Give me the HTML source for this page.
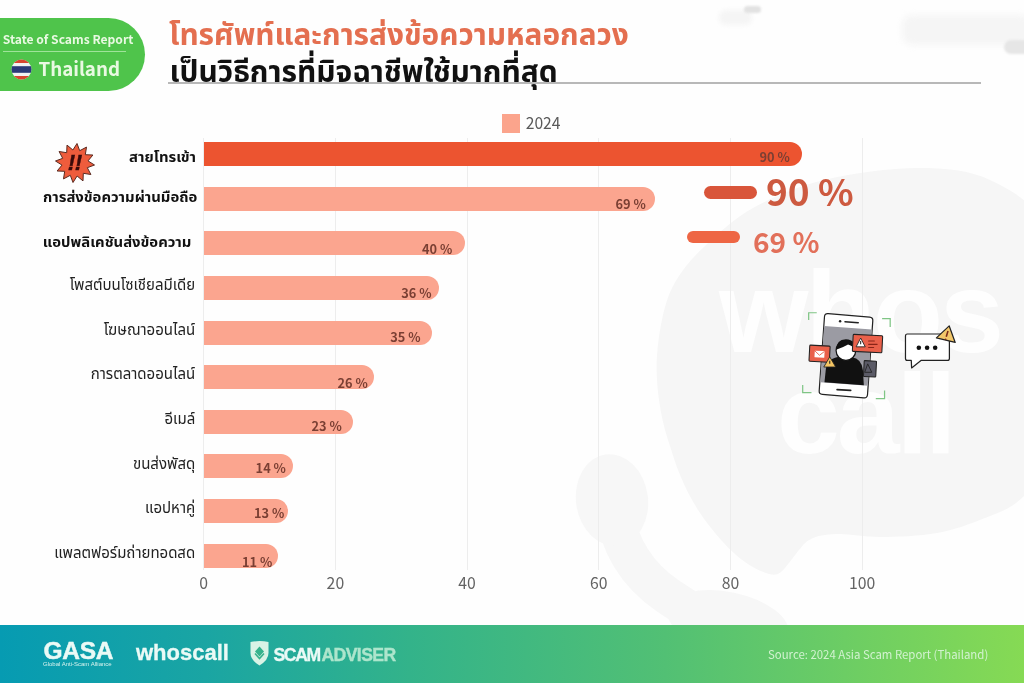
<!DOCTYPE html>
<html lang="th">
<head>
<meta charset="utf-8">
<title>State of Scams Report – Thailand</title>
<style>
html,body{margin:0;padding:0;}
body{width:1024px;height:683px;overflow:hidden;background:#fff;font-family:"Liberation Sans","Noto Sans Thai","Sarabun",sans-serif;}
#page{position:relative;width:1024px;height:683px;overflow:hidden;background:#fefefe;}
.abs{position:absolute;}
.th{font-family:"Liberation Sans","Noto Sans Thai","Sarabun","Kanit",sans-serif;}
.num{font-family:"Noto Sans CJK SC","Liberation Sans",sans-serif;}
/* badge */
#badge{left:0;top:18px;width:145px;height:73px;background:#4fc44b;border-radius:0 37px 37px 0;}
#badge .t1{left:2.8px;top:13px;font-size:12.1px;font-weight:bold;color:#e9f9e2;white-space:nowrap;line-height:16px;}
#badge .ln{left:3px;top:33px;width:123px;height:1px;background:#9fe39a;}
#badge .t2{left:38.4px;top:38px;font-size:18.8px;font-weight:bold;color:#e9f9e2;white-space:nowrap;line-height:24px;}
/* titles */
#t1{left:169px;top:12.9px;font-size:29.8px;font-weight:bold;color:#e46f50;white-space:nowrap;line-height:44px;transform:scaleY(1.025);transform-origin:0 30px;}
#t2{left:169.5px;top:49.9px;font-size:29.9px;font-weight:bold;color:#111;white-space:nowrap;line-height:44px;transform:scaleY(1.02);transform-origin:0 30px;}
#rule{left:168px;top:82px;width:813px;height:1.5px;background:#b8b8b8;}
/* chart */
.grid{top:138px;width:1px;height:432px;background:#ededed;}
.bar{left:204px;height:24px;background:#fba58f;border-radius:0 12px 12px 0;}
.bar.hot{background:#ec5430;}
.lab{right:828px;font-size:15px;color:#222;white-space:nowrap;line-height:24px;text-align:right;}
.lab.b{font-weight:bold;color:#111;font-size:14.85px;}
.val{font-size:12.8px;font-weight:bold;color:#7a3f33;white-space:nowrap;line-height:14px;}
.tick{top:572.9px;width:60px;margin-left:-30px;text-align:center;font-size:15.8px;color:#636363;line-height:20px;}
/* footer */
#footer{left:0;top:625px;width:1024px;height:58px;background:linear-gradient(90deg,#069bb2 0%,#1aa5a3 20%,#33b38a 40%,#52c074 65%,#86da54 100%);}
</style>
</head>
<body>
<div id="page">
  <svg class="abs" style="left:0;top:0;" width="1024" height="683" viewBox="0 0 1024 683">
    <path d="M918,168 C946,168 969,170 990,180 C1011,190 1030,200 1045,225 C1060,250 1075,294 1078,330 C1081,366 1071,412 1062,440 C1053,468 1037,483 1024,496 C1011,509 1000,512 985,518 C970,524 954,530 937,533 C920,536 896,537 880,537 C864,537 851,534 840,534 C829,534 820,535 813,538 C806,541 804,544 799,550 C794,556 786,568 781,572 C776,576 772,575 766,573 C760,571 752,567 745,562 C738,557 730,550 722,541 C714,532 705,521 698,510 C691,499 685,487 680,475 C675,463 672,452 668,440 C664,428 661,414 659,400 C657,386 656,369 657,355 C658,341 660,328 663,315 C666,302 670,290 677,279 C684,268 692,258 705,246 C718,234 733,219 753,208 C773,197 796,187 824,180 C852,173 890,168 918,168 Z" fill="#f6f6f6"/>
    <path d="M612,492 Q615,560 668,596 Q700,618 745,640" fill="none" stroke="#f7f7f7" stroke-width="38" stroke-linecap="round"/>
    <ellipse cx="612" cy="500" rx="36" ry="46" transform="rotate(-8 612 500)" fill="#f7f7f7"/>
    <ellipse cx="728" cy="622" rx="62" ry="30" transform="rotate(12 728 622)" fill="#f7f7f7"/>
    <text x="719" y="352" font-family="Liberation Sans, sans-serif" font-weight="bold" font-size="115" letter-spacing="-3" fill="#fefefe">whos</text>
    <text x="777" y="453" font-family="Liberation Sans, sans-serif" font-weight="bold" font-size="113" letter-spacing="-3" fill="#fefefe">call</text>
  </svg>
  <div class="abs" style="left:719px;top:10px;width:33px;height:15px;border-radius:7px;background:#f5f5f5;filter:blur(2px);"></div>
  <div class="abs" style="left:744px;top:6px;width:17px;height:7px;border-radius:3.5px;background:#e2e2e2;filter:blur(0.8px);"></div>
  <div class="abs" style="left:902px;top:15px;width:130px;height:30px;border-radius:10px;background:#f5f5f5;filter:blur(3px);"></div>
  <div class="abs" style="left:1004px;top:40px;width:30px;height:14px;border-radius:7px;background:#e6e6e6;filter:blur(1px);"></div>
  <div id="badge" class="abs">
    <div class="abs t1 num">State of Scams Report</div>
    <div class="abs ln"></div>
    <svg class="abs" style="left:11px;top:40.5px;" width="21" height="21" viewBox="0 0 21 21">
      <defs><clipPath id="fc"><circle cx="10.5" cy="10.5" r="10"/></clipPath></defs>
      <g clip-path="url(#fc)">
        <rect x="0" y="0" width="21" height="21" fill="#f2f2f2"/>
        <rect x="0" y="0" width="21" height="4" fill="#d8452f"/>
        <rect x="0" y="17" width="21" height="4" fill="#d8452f"/>
        <rect x="0" y="7.2" width="21" height="6.6" fill="#2b3a78"/>
      </g>
    </svg>
    <div class="abs t2 num">Thailand</div>
  </div>
  <div id="t1" class="abs th">โทรศัพท์และการส่งข้อความหลอกลวง</div>
  <div id="t2" class="abs th">เป็นวิธีการที่มิจฉาชีพใช้มากที่สุด</div>
  <div id="rule" class="abs"></div>
  <div class="abs grid" style="left:203.2px;"></div>
  <div class="abs grid" style="left:334.9px;"></div>
  <div class="abs grid" style="left:466.6px;"></div>
  <div class="abs grid" style="left:598.3px;"></div>
  <div class="abs grid" style="left:730.0px;"></div>
  <div class="abs grid" style="left:861.7px;"></div>
  <div class="abs bar hot" style="top:142.0px;width:597.8px;"></div>
  <div class="abs lab th b" style="top:145.2px;right:828px;">สายโทรเข้า</div>
  <div class="abs val num" style="left:759.5px;top:149.5px;">90 %</div>
  <div class="abs bar" style="top:186.6px;width:451.0px;"></div>
  <div class="abs lab th b" style="top:185.2px;right:826.7px;">การส่งข้อความผ่านมือถือ</div>
  <div class="abs val num" style="left:615.4px;top:196.6px;">69 %</div>
  <div class="abs bar" style="top:231.2px;width:260.6px;"></div>
  <div class="abs lab th b" style="top:229.8px;right:832.6px;">แอปพลิเคชันส่งข้อความ</div>
  <div class="abs val num" style="left:421.9px;top:241.5px;">40 %</div>
  <div class="abs bar" style="top:275.9px;width:235.4px;"></div>
  <div class="abs lab th" style="top:273.1px;right:828.8px;">โพสต์บนโซเชียลมีเดีย</div>
  <div class="abs val num" style="left:401.2px;top:286.0px;">36 %</div>
  <div class="abs bar" style="top:320.5px;width:227.7px;"></div>
  <div class="abs lab th" style="top:317.7px;right:828.8px;">โฆษณาออนไลน์</div>
  <div class="abs val num" style="left:390.3px;top:329.8px;">35 %</div>
  <div class="abs bar" style="top:365.1px;width:169.7px;"></div>
  <div class="abs lab th" style="top:362.3px;right:828.8px;">การตลาดออนไลน์</div>
  <div class="abs val num" style="left:337.5px;top:375.6px;">26 %</div>
  <div class="abs bar" style="top:409.7px;width:148.7px;"></div>
  <div class="abs lab th" style="top:406.9px;right:828.8px;">อีเมล์</div>
  <div class="abs val num" style="left:311.5px;top:419.1px;">23 %</div>
  <div class="abs bar" style="top:454.3px;width:88.8px;"></div>
  <div class="abs lab th" style="top:451.5px;right:828.8px;">ขนส่งพัสดุ</div>
  <div class="abs val num" style="left:255.6px;top:460.6px;">14 %</div>
  <div class="abs bar" style="top:499.0px;width:84.0px;"></div>
  <div class="abs lab th" style="top:496.2px;right:828.8px;">แอปหาคู่</div>
  <div class="abs val num" style="left:253.9px;top:505.8px;">13 %</div>
  <div class="abs bar" style="top:543.6px;width:73.9px;"></div>
  <div class="abs lab th" style="top:540.8px;right:828.8px;">แพลตฟอร์มถ่ายทอดสด</div>
  <div class="abs val num" style="left:241.9px;top:554.9px;">11 %</div>
  <div class="abs tick num" style="left:203.7px;">0</div>
  <div class="abs tick num" style="left:335.4px;">20</div>
  <div class="abs tick num" style="left:467.1px;">40</div>
  <div class="abs tick num" style="left:598.8px;">60</div>
  <div class="abs tick num" style="left:730.5px;">80</div>
  <div class="abs tick num" style="left:862.2px;">100</div>
  <div class="abs" style="left:502px;top:114px;width:18px;height:18.5px;background:#fba48c;"></div>
  <div class="abs num" style="left:525.7px;top:112.6px;font-size:15.7px;line-height:19px;color:#5a5a5a;">2024</div>
  <div class="abs" style="left:704px;top:186px;width:53px;height:12.5px;border-radius:7px;background:#d9553a;"></div>
  <div class="abs num" id="c90" style="left:766px;top:166.5px;font-size:37px;line-height:46px;font-weight:bold;color:#cd5a40;white-space:nowrap;">90 %</div>
  <div class="abs" style="left:687px;top:231px;width:53px;height:12px;border-radius:6px;background:#ee6644;"></div>
  <div class="abs num" id="c69" style="left:753px;top:220.5px;font-size:28px;line-height:40px;font-weight:bold;color:#e2705a;white-space:nowrap;">69 %</div>
  <svg class="abs" style="left:55px;top:143px;" width="40" height="40" viewBox="-20 -20 40 40">
    <polygon id="burst" points="2.0,-19.5 4.7,-12.3 11.5,-15.9 10.3,-8.3 17.9,-8.0 13.0,-2.1 19.5,2.0 12.3,4.7 15.9,11.5 8.3,10.3 8.0,17.9 2.1,13.0 -2.0,19.5 -4.7,12.3 -11.5,15.9 -10.3,8.3 -17.9,8.0 -13.0,2.1 -19.5,-2.0 -12.3,-4.7 -15.9,-11.5 -8.3,-10.3 -8.0,-17.9 -2.1,-13.0" fill="#ee5c3c" stroke="#5a2a20" stroke-width="1" stroke-linejoin="miter"/>
    <text x="-0.3" y="6.8" text-anchor="middle" font-family="Liberation Sans, sans-serif" font-weight="bold" font-style="italic" font-size="22.5" letter-spacing="-0.5" fill="#3a0a0a" stroke="#3a0a0a" stroke-width="0.4">!!</text>
  </svg>
  <svg class="abs" style="left:790px;top:295px;" width="180" height="120" viewBox="0 0 1024 683">
    <g fill="none" stroke="#7fc585" stroke-width="7">
      <path d="M106,142 V101 H152"/><path d="M524,134 H570 V182"/>
      <path d="M72,512 V556 H122"/><path d="M488,590 H538 V544"/>
    </g>
    <path d="M217,106 L453,126 Q473,128 471,147 L441,566 Q440,587 420,585 L184,566 Q164,565 166,545 L196,124 Q197,104 217,106 Z" fill="#fff" stroke="#222" stroke-width="7" stroke-linejoin="round"/>
    <path d="M194,176 L466,197 L443,516 L172,496 Z" fill="#9b9ba3"/>
    <circle cx="285" cy="150" r="7" fill="#222"/>
    <path d="M313,152 L388,158" stroke="#222" stroke-width="9" stroke-linecap="round"/>
    <path d="M268,538 L345,543" stroke="#222" stroke-width="10" stroke-linecap="round"/>
    <path d="M196,497 L204,420 Q215,355 290,352 L350,354 Q410,362 415,430 L420,514 Z" fill="#111"/>
    <circle cx="318" cy="316" r="56" fill="#fff" stroke="#111" stroke-width="7"/>
    <path d="M262,312 Q262,255 318,252 Q378,255 378,318 Q360,290 330,282 Q300,300 262,312 Z" fill="#111"/>
    <rect x="110" y="288" width="116" height="92" rx="5" fill="#e9604a" stroke="#222" stroke-width="6" transform="rotate(3 168 334)"/>
    <g transform="rotate(3 168 334)"><rect x="140" y="318" width="56" height="38" rx="3" fill="#fff"/><path d="M141,320 L168,343 L195,320" fill="none" stroke="#e9604a" stroke-width="5"/></g>
    <path d="M226,352 L260,410 L192,410 Z" fill="#f5c563" stroke="#222" stroke-width="5" stroke-linejoin="round"/>
    <path d="M226,374 V392" stroke="#222" stroke-width="6"/>
    <rect x="420" y="375" width="70" height="90" rx="4" fill="#5b5b67" stroke="#222" stroke-width="6" transform="rotate(3 455 420)"/>
    <path d="M442,392 L465,440 L425,440 Z" fill="none" stroke="#222" stroke-width="5" stroke-linejoin="round"/>
    <rect x="357" y="228" width="168" height="97" rx="5" fill="#e9604a" stroke="#222" stroke-width="6" transform="rotate(3 440 276)"/>
    <path d="M402,245 L428,295 L376,295 Z" fill="#fff" stroke="#222" stroke-width="5" stroke-linejoin="round"/>
    <path d="M402,262 V280" stroke="#222" stroke-width="6"/>
    <g stroke="#8a2418" stroke-width="6" stroke-linecap="round"><path d="M447,262 H480"/><path d="M447,281 H496"/><path d="M447,299 H476"/></g>
    <path d="M668,222 H896 Q907,222 907,233 V361 Q907,372 896,372 H747 L692,415 L690,372 H668 Q657,372 657,361 V233 Q657,222 668,222 Z" fill="#fff" stroke="#222" stroke-width="7" stroke-linejoin="round"/>
    <circle cx="733" cy="300" r="13" fill="#111"/><circle cx="780" cy="300" r="13" fill="#111"/><circle cx="826" cy="300" r="13" fill="#111"/>
    <path d="M906,176 L940,270 L833,244 Z" fill="#f3c76a" stroke="#222" stroke-width="7" stroke-linejoin="round"/>
    <path d="M899,205 L889,238" stroke="#7a2a18" stroke-width="9"/>
    <circle cx="885" cy="252" r="5" fill="#7a2a18"/>
  </svg>
  <div id="footer" class="abs">
    <div class="abs" id="gasa" style="left:43.5px;top:11.5px;font-size:24.5px;line-height:28px;font-weight:bold;color:#eafaf6;-webkit-text-stroke:0.5px #eafaf6;letter-spacing:-0.3px;white-space:nowrap;">GASA</div>
    <div class="abs" id="gasasub" style="left:43px;top:35px;font-size:6px;line-height:8px;color:#d8f3ee;white-space:nowrap;">Global Anti-Scam Alliance</div>
    <div class="abs" id="whos" style="left:136px;top:13px;font-size:22px;line-height:30px;font-weight:bold;color:#eafaf6;letter-spacing:0px;-webkit-text-stroke:0.3px #eafaf6;white-space:nowrap;">whoscall</div>
    <svg class="abs" style="left:249px;top:15px;" width="21" height="27" viewBox="0 0 21 27">
      <path d="M1.5,2 Q10.5,0.2 19.5,2 V13 Q19.5,20 10.5,25.5 Q1.5,20 1.5,13 Z" fill="#d9f3e6"/>
      <path d="M10.5,6.5 L15,11.5 L10.5,16.5 L6,11.5 Z" fill="#35b28c"/>
      <path d="M6,13.5 L10.5,18.5 L15,13.5" fill="none" stroke="#35b28c" stroke-width="1.6"/>
    </svg>
    <div class="abs" id="scam" style="left:273.5px;top:17.5px;font-size:17.6px;line-height:24px;font-weight:bold;color:#eafaf6;-webkit-text-stroke:0.35px;letter-spacing:-1.4px;white-space:nowrap;">SCAM<span style="color:#ade5cc;letter-spacing:-0.6px;margin-left:1.8px;">ADVISER</span></div>
    <div class="abs num" id="src" style="left:768px;top:21px;font-size:11.4px;line-height:16px;color:#d2f2d0;white-space:nowrap;">Source: 2024 Asia Scam Report (Thailand)</div>
  </div>
</div>
</body>
</html>
